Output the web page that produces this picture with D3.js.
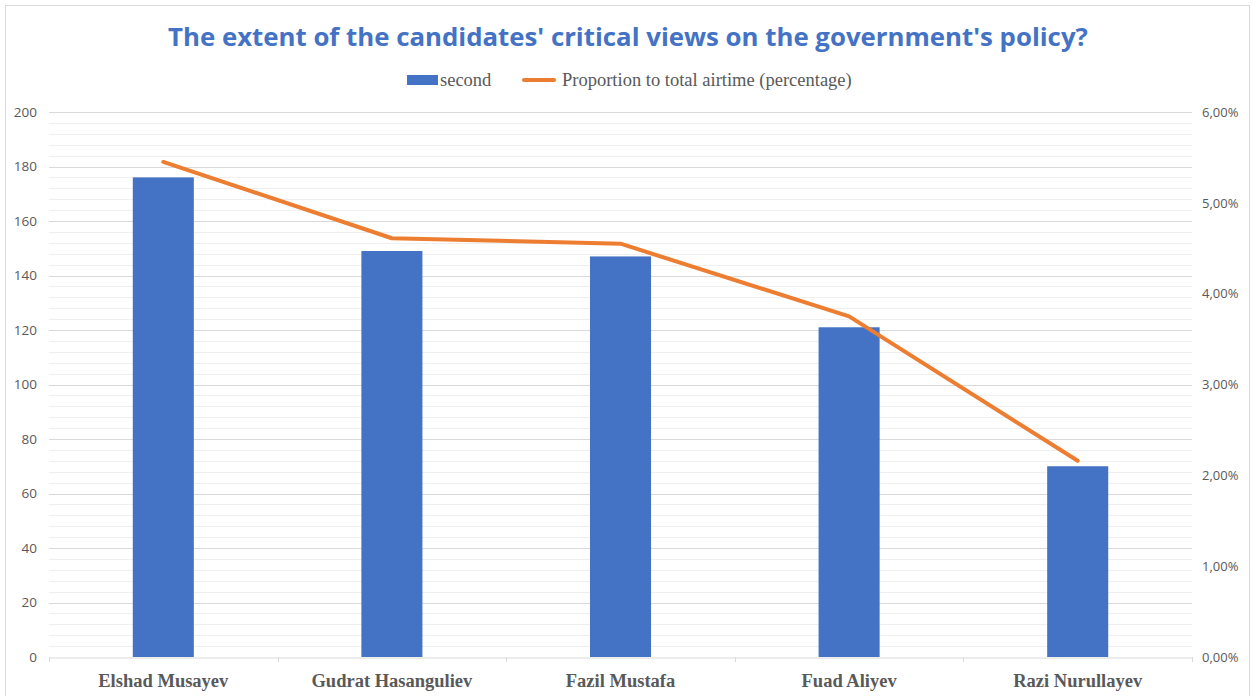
<!DOCTYPE html>
<html>
<head>
<meta charset="utf-8">
<script src="https://cdn.jsdelivr.net/npm/d3@7/dist/d3.min.js"></script>
<style>
  html, body { margin: 0; padding: 0; background: #fff; }
  svg { display: block; }
</style>
</head>
<body>
<svg id="chart" width="1257" height="696"></svg>
<script>
// Data
const candidates = ["Elshad Musayev", "Gudrat Hasanguliev", "Fazil Mustafa", "Fuad Aliyev", "Razi Nurullayev"];
const seconds = [176, 149, 147, 121, 70];
const airtimeShare = [5.45, 4.61, 4.55, 3.75, 2.16]; // percent of total airtime
const leftTicks = [0, 20, 40, 60, 80, 100, 120, 140, 160, 180, 200];
const rightTicks = [0, 1, 2, 3, 4, 5, 6];
const titleText = "The extent of the candidates' critical views on the government's policy?";
const barLabel = "second";
const lineLabel = "Proportion to total airtime (percentage)";

const svg = d3.select("#chart");
const plot = { left: 49, right: 1192, top: 112, bottom: 657 };

// Chart frame
svg.append("rect")
  .attr("x", 5.5).attr("y", 5.5)
  .attr("width", 1244).attr("height", 700)
  .attr("fill", "#fff").attr("stroke", "#d9d9d9").attr("stroke-width", 1);

const x = d3.scaleBand().domain(candidates).range([plot.left, plot.right]).paddingInner(0).paddingOuter(0);
const yL = d3.scaleLinear().domain([0, 200]).range([plot.bottom, plot.top]);
const yR = d3.scaleLinear().domain([0, 6]).range([plot.bottom, plot.top]);

// Minor gridlines every 4 seconds
const minor = d3.range(0, 201, 4).filter(v => v % 20 !== 0);
svg.append("g").selectAll("line").data(minor).join("line")
  .attr("x1", plot.left).attr("x2", plot.right)
  .attr("y1", d => Math.round(yL(d)) + 0.5).attr("y2", d => Math.round(yL(d)) + 0.5)
  .attr("stroke", "#efefef").attr("stroke-width", 1);

// Major gridlines
svg.append("g").selectAll("line").data(leftTicks.filter(v => v > 0)).join("line")
  .attr("x1", plot.left).attr("x2", plot.right)
  .attr("y1", d => Math.round(yL(d)) + 0.5).attr("y2", d => Math.round(yL(d)) + 0.5)
  .attr("stroke", "#d9d9d9").attr("stroke-width", 1);

// Left axis
const leftAxis = svg.append("g")
  .attr("transform", `translate(${plot.left},0)`)
  .call(d3.axisLeft(yL).tickValues(leftTicks).tickSize(0).tickPadding(12));
leftAxis.select(".domain").remove();
leftAxis.selectAll("text")
  .attr("font-family", "'Open Sans', 'Noto Sans', sans-serif")
  .attr("font-size", 13.5).attr("fill", "#595959");

// Right axis
const fmtPct = d => d.toFixed(2).replace(".", ",") + "%";
const rightAxis = svg.append("g")
  .attr("transform", `translate(${plot.right},0)`)
  .call(d3.axisRight(yR).tickValues(rightTicks).tickFormat(fmtPct).tickSize(0).tickPadding(10));
rightAxis.select(".domain").remove();
rightAxis.selectAll("text")
  .attr("font-family", "'Open Sans', 'Noto Sans', sans-serif")
  .attr("font-size", 13).attr("fill", "#595959");

// Bars
const barW = x.bandwidth() * 0.267;
svg.append("g").selectAll("rect").data(candidates).join("rect")
  .attr("x", (d) => x(d) + x.bandwidth() / 2 - barW / 2)
  .attr("y", (d, i) => yL(seconds[i]))
  .attr("width", barW)
  .attr("height", (d, i) => yL(0) - yL(seconds[i]))
  .attr("fill", "#4472c4");

// Bottom axis line and category ticks
const bottomAxis = svg.append("g")
  .attr("transform", `translate(0,${plot.bottom + 0.5})`)
  .call(d3.axisBottom(x).tickSize(0).tickPadding(16));
bottomAxis.select(".domain").attr("stroke", "#d9d9d9");
bottomAxis.selectAll("text")
  .attr("font-family", "'Liberation Serif', 'Times New Roman', serif")
  .attr("font-weight", "bold").attr("font-size", 18.5).attr("fill", "#595959");
const bounds = candidates.map(c => x(c)).concat([plot.right]);
svg.append("g").selectAll("line").data(bounds).join("line")
  .attr("x1", d => Math.round(d) + 0.5).attr("x2", d => Math.round(d) + 0.5)
  .attr("y1", plot.bottom).attr("y2", plot.bottom + 5)
  .attr("stroke", "#d9d9d9");

// Line series on right axis
const line = d3.line()
  .x((d, i) => x(candidates[i]) + x.bandwidth() / 2)
  .y(d => yR(d));
svg.append("path").datum(airtimeShare)
  .attr("d", line)
  .attr("fill", "none").attr("stroke", "#ed7d31")
  .attr("stroke-width", 4).attr("stroke-linejoin", "round").attr("stroke-linecap", "round");

// Title
svg.append("text")
  .attr("x", 628).attr("y", 46)
  .attr("text-anchor", "middle")
  .attr("font-family", "'Open Sans', 'Noto Sans', sans-serif")
  .attr("font-weight", "bold").attr("font-size", 25.8)
  .attr("fill", "#4472c4")
  .text(titleText);

// Legend
const lg = svg.append("g").attr("font-family", "'Liberation Serif', 'Times New Roman', serif")
  .attr("font-size", 18.5).attr("fill", "#595959");
lg.append("rect").attr("x", 407).attr("y", 75).attr("width", 31).attr("height", 10).attr("fill", "#4472c4");
lg.append("text").attr("x", 440).attr("y", 86).text(barLabel);
lg.append("line").attr("x1", 524).attr("x2", 554).attr("y1", 80).attr("y2", 80)
  .attr("stroke", "#ed7d31").attr("stroke-width", 4).attr("stroke-linecap", "round");
lg.append("text").attr("x", 562).attr("y", 86).text(lineLabel);
</script>
</body>
</html>
